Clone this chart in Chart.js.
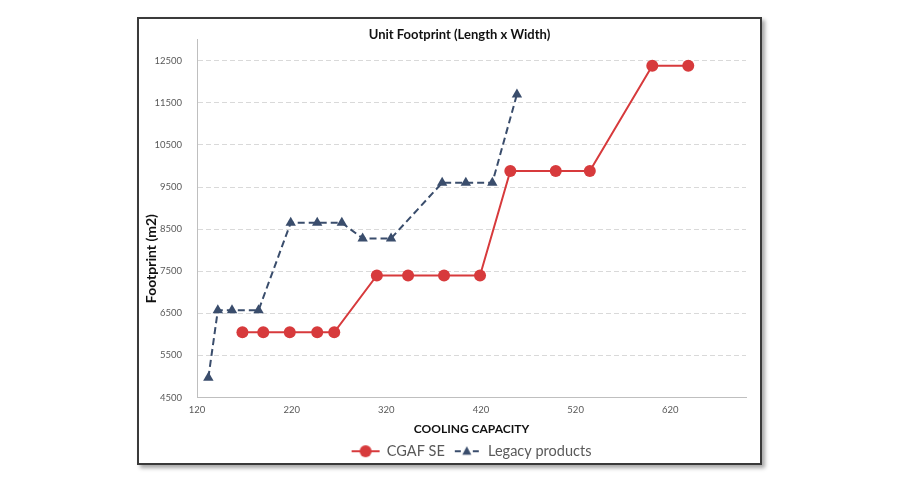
<!DOCTYPE html>
<html>
<head>
<meta charset="utf-8">
<script src="https://cdn.jsdelivr.net/npm/chart.js@4"></script>
<style>
  html, body { margin: 0; padding: 0; background: #fff; }
  #frame {
    position: absolute; left: 137px; top: 17px;
    width: 621px; height: 444px;
    border: 2px solid #3a3a3a;
    box-shadow: 3px 3px 4px rgba(0,0,0,0.35);
    background: #fff;
    overflow: hidden;
  }
  #chart { display: block; }
</style>
</head>
<body>
<div id="frame"><canvas id="chart" width="621" height="444"></canvas></div>
<script>
// CGAF SE (cooling capacity vs footprint)
var cgafCapacity = [168, 190, 218, 247, 265, 310, 343, 381, 419, 451, 499, 535, 601, 639];
var cgafFootprint = [6050, 6050, 6050, 6050, 6050, 7400, 7400, 7400, 7400, 9880, 9880, 9880, 12380, 12380];

// Legacy products
var legacyCapacity = [132, 142, 157, 185, 219, 247, 273, 295, 325, 379, 404, 432, 458];
var legacyFootprint = [4970, 6570, 6570, 6570, 8650, 8650, 8650, 8280, 8280, 9600, 9600, 9600, 11700];

var xTicks = [120, 220, 320, 420, 520, 620];
var yTicks = [4500, 5500, 6500, 7500, 8500, 9500, 10500, 11500, 12500];

var red = '#d73a3c';
var navy = '#3a4d6c';

function toPoints(xs, ys) {
    return xs.map(function (x, i) { return { x: x, y: ys[i] }; });
}

// little line+marker pictures for the legend
function legendIcon(kind) {
    var c = document.createElement('canvas');
    c.width = 30; c.height = 14;
    var g = c.getContext('2d');
    if (kind === 'circle') {
        g.strokeStyle = red; g.lineWidth = 2;
        g.beginPath(); g.moveTo(1, 7); g.lineTo(29, 7); g.stroke();
        g.fillStyle = red;
        g.beginPath(); g.arc(15, 7, 6, 0, Math.PI * 2); g.fill();
    } else {
        g.strokeStyle = navy; g.lineWidth = 2;
        g.beginPath(); g.moveTo(3, 7); g.lineTo(9, 7); g.moveTo(21, 7); g.lineTo(27, 7); g.stroke();
        g.fillStyle = navy;
        g.beginPath(); g.moveTo(15, 2); g.lineTo(19.5, 10.5); g.lineTo(10.5, 10.5); g.closePath(); g.fill();
    }
    return c;
}
var icons = [legendIcon('circle'), legendIcon('triangle')];

// the original has its title a bit right of centre and the y title below the middle
var nudge = {
    id: 'nudge',
    afterLayout: function (chart) {
        if (chart.titleBlock) chart.titleBlock.left += 20;
    }
};

Chart.defaults.font.family = 'Lato, "DejaVu Sans", sans-serif';
Chart.defaults.color = '#595959';

var ctx = document.getElementById('chart').getContext('2d');
new Chart(ctx, {
    type: 'line',
    data: {
        datasets: [{
            label: 'CGAF SE',
            data: toPoints(cgafCapacity, cgafFootprint),
            borderColor: red,
            backgroundColor: red,
            borderWidth: 2,
            pointStyle: 'circle',
            pointRadius: 6,
            pointHoverRadius: 6,
            pointBorderWidth: 0,
            tension: 0
        }, {
            label: 'Legacy products',
            data: toPoints(legacyCapacity, legacyFootprint),
            borderColor: navy,
            backgroundColor: navy,
            borderWidth: 2,
            borderDash: [7, 4],
            pointStyle: 'triangle',
            pointRadius: 6,
            pointHoverRadius: 6,
            pointBorderWidth: 0,
            tension: 0
        }]
    },
    plugins: [nudge],
    options: {
        responsive: false,
        animation: false,
        layout: { padding: { left: 14, right: 14, top: 0, bottom: -5.5 } },
        plugins: {
            title: {
                display: true,
                text: 'Unit Footprint (Length x Width)',
                color: '#111',
                font: { size: 13, weight: 'bold' },
                padding: { top: 7, bottom: -3 }
            },
            legend: {
                position: 'bottom',
                fullSize: false,
                labels: {
                    usePointStyle: true,
                    pointStyleWidth: 28,
                    padding: 8,
                    color: '#595959',
                    font: { size: 14.5 },
                    generateLabels: function (chart) {
                        var items = Chart.defaults.plugins.legend.labels.generateLabels(chart);
                        items.forEach(function (it, i) { it.pointStyle = icons[i]; });
                        return items;
                    }
                }
            },
            tooltip: { enabled: false }
        },
        scales: {
            x: {
                type: 'linear',
                min: 120,
                max: 700,
                afterBuildTicks: function (axis) {
                    axis.ticks = xTicks.map(function (v) { return { value: v }; });
                },
                afterFit: function (axis) { axis.height = 38.5; },
                grid: { display: false, drawTicks: false },
                border: { display: true, color: '#bfbfbf', width: 1 },
                ticks: {
                    padding: 7, font: { size: 9.5 }, color: '#595959',
                    callback: function (v) { return String(v); }
                },
                title: {
                    display: true,
                    text: 'COOLING CAPACITY',
                    color: '#111',
                    font: { size: 12, weight: 'bold' },
                    padding: { top: 4, bottom: 0 }
                }
            },
            y: {
                type: 'linear',
                min: 4500,
                max: 13000,
                afterBuildTicks: function (axis) {
                    axis.ticks = yTicks.map(function (v) { return { value: v }; });
                },
                afterFit: function (axis) {
                    axis.width = 44;
                    if (!axis._titlePatched) {
                        var orig = axis.drawTitle;
                        axis.drawTitle = function () {
                            this.top += 40; this.bottom += 40;
                            orig.apply(this, arguments);
                            this.top -= 40; this.bottom -= 40;
                        };
                        axis._titlePatched = true;
                    }
                },
                grid: { color: '#d9d9d9', drawTicks: false, lineWidth: 1 },
                border: { display: true, color: '#bfbfbf', width: 1, dash: [5, 3] },
                ticks: {
                    padding: 15, font: { size: 9.5 }, color: '#595959',
                    callback: function (v) { return String(v); }
                },
                title: {
                    display: true,
                    text: 'Footprint (m2)',
                    color: '#111',
                    font: { size: 14, weight: 'bold' },
                    padding: { top: -10.4, bottom: 0 }
                }
            }
        }
    }
});
</script>
</body>
</html>
